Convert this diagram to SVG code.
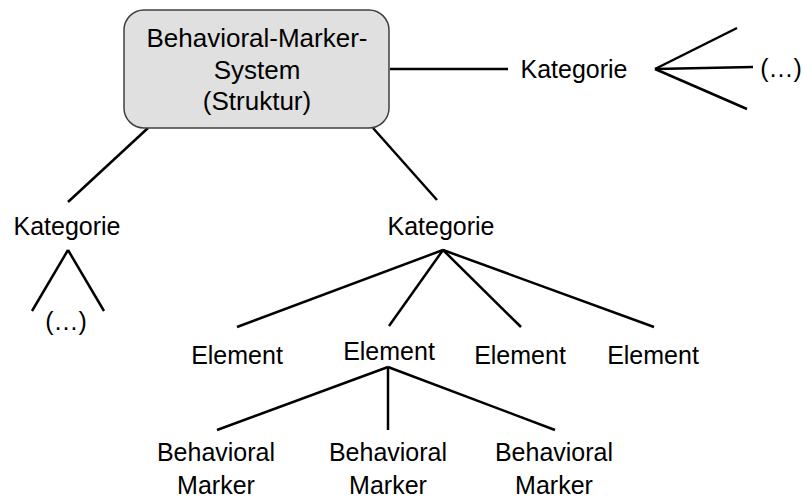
<svg xmlns="http://www.w3.org/2000/svg" width="803" height="500" viewBox="0 0 803 500">
  <style>
    .lbl { font-family: "Liberation Sans", Arial, sans-serif; font-size: 25px; fill: #000; text-anchor: middle; }
    .big { font-size: 26px; }
    .edge { stroke: #000; stroke-width: 2.5; fill: none; stroke-linecap: butt; }
    .box { fill: #e0e0e0; stroke: #404040; stroke-width: 1.5; }
  </style>

  <!-- connectors -->
  <g id="connectors">
    <line class="edge" x1="390" y1="69" x2="508" y2="69"/>
    <line class="edge" x1="655" y1="69" x2="737" y2="28"/>
    <line class="edge" x1="655" y1="69" x2="753" y2="67"/>
    <line class="edge" x1="655" y1="69" x2="747" y2="109"/>
    <line class="edge" x1="148" y1="128" x2="68" y2="202"/>
    <line class="edge" x1="68" y1="250" x2="32" y2="311"/>
    <line class="edge" x1="68" y1="250" x2="104" y2="311"/>
    <line class="edge" x1="373" y1="128" x2="437" y2="200"/>
    <line class="edge" x1="443" y1="250" x2="237" y2="327"/>
    <line class="edge" x1="443" y1="250" x2="389" y2="326"/>
    <line class="edge" x1="443" y1="250" x2="521" y2="327"/>
    <line class="edge" x1="443" y1="250" x2="654" y2="327"/>
    <line class="edge" x1="388" y1="367" x2="217" y2="430"/>
    <line class="edge" x1="388" y1="367" x2="388" y2="430"/>
    <line class="edge" x1="388" y1="367" x2="555" y2="430"/>
  </g>

  <!-- root system node -->
  <g id="system">
    <rect class="box" x="124" y="10" width="265" height="118" rx="20" ry="20"/>
    <text class="lbl big" x="257" y="47">Behavioral-Marker-</text>
    <text class="lbl big" x="257" y="79">System</text>
    <text class="lbl big" x="257" y="110">(Struktur)</text>
  </g>

  <g id="kategorie-right">
    <text class="lbl" x="574" y="78">Kategorie</text>
  </g>
  <g id="more-right">
    <text class="lbl" x="781" y="77">(…)</text>
  </g>

  <g id="kategorie-left">
    <text class="lbl" x="67" y="235">Kategorie</text>
  </g>
  <g id="more-left">
    <text class="lbl" x="66" y="330">(…)</text>
  </g>

  <g id="kategorie-main">
    <text class="lbl" x="441" y="235">Kategorie</text>
  </g>

  <g id="element-1"><text class="lbl" x="237" y="364">Element</text></g>
  <g id="element-2"><text class="lbl" x="389" y="360">Element</text></g>
  <g id="element-3"><text class="lbl" x="520" y="364">Element</text></g>
  <g id="element-4"><text class="lbl" x="653" y="364">Element</text></g>

  <g id="marker-1">
    <text class="lbl" x="216" y="461">Behavioral</text>
    <text class="lbl" x="216" y="494">Marker</text>
  </g>
  <g id="marker-2">
    <text class="lbl" x="388" y="461">Behavioral</text>
    <text class="lbl" x="388" y="494">Marker</text>
  </g>
  <g id="marker-3">
    <text class="lbl" x="554" y="461">Behavioral</text>
    <text class="lbl" x="554" y="494">Marker</text>
  </g>
</svg>
